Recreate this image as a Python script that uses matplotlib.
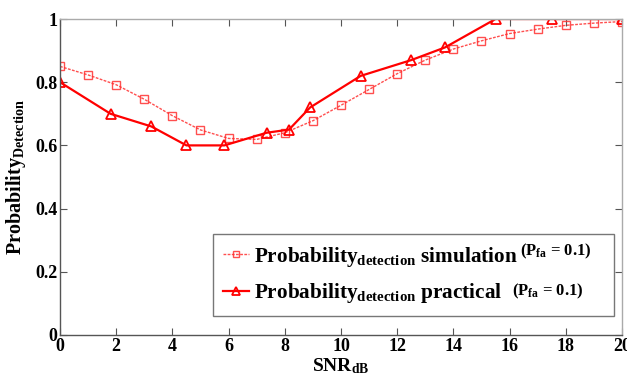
import matplotlib
matplotlib.use("Agg")
import matplotlib.pyplot as plt

plt.rcParams['font.family'] = 'Liberation Serif'
plt.rcParams['font.weight'] = 'bold'
plt.rcParams['axes.labelweight'] = 'bold'
plt.rcParams['mathtext.fontset'] = 'custom'
plt.rcParams['mathtext.rm'] = 'Liberation Serif:bold'
plt.rcParams['mathtext.it'] = 'Liberation Serif:bold'
plt.rcParams['mathtext.bf'] = 'Liberation Serif:bold'

# simulation curve (squares)
snr_sim = [0, 1, 2, 3, 4, 5, 6, 7, 8, 9, 10, 11, 12, 13, 14, 15, 16, 17, 18, 19, 20]
pd_sim = [0.85, 0.823, 0.792, 0.746, 0.694, 0.649, 0.622, 0.619, 0.640, 0.678,
          0.727, 0.777, 0.827, 0.870, 0.905, 0.931, 0.954, 0.968, 0.980, 0.987, 0.992]

# practical measurements (triangles)
snr_prac = [0, 1.8, 3.25, 4.5, 5.85, 7.35, 8.15, 8.9, 10.7, 12.5, 13.7, 15.5, 17.5, 20]
pd_prac = [0.80, 0.70, 0.66, 0.60, 0.60, 0.64, 0.65, 0.72, 0.82, 0.87, 0.91, 1.0, 1.0, 1.0]

x_ticks = [0, 2, 4, 6, 8, 10, 12, 14, 16, 18, 20]
y_ticks = [0, 0.2, 0.4, 0.6, 0.8, 1]
y_ticklabels = ['0', '0.2', '0.4', '0.6', '0.8', '1']

fig, ax = plt.subplots(figsize=(6.27, 3.78), dpi=100)
fig.subplots_adjust(left=0.0957, right=0.992, top=0.9497, bottom=0.1138)

ax.plot(snr_sim, pd_sim, color='#ff3030', linestyle='--', dashes=(2, 1), linewidth=1.0,
        marker='s', markersize=5.5, markerfacecolor='none', markeredgecolor='#ff3030',
        markeredgewidth=1.0, alpha=0.85,
        label=r'Probability$_{\mathrm{detection}}$ simulation')
ax.plot(snr_prac, pd_prac, color='#ff0000', linestyle='-', linewidth=1.6,
        marker='^', markersize=7, markerfacecolor='none', markeredgecolor='#ff0000',
        markeredgewidth=1.3,
        label=r'Probability$_{\mathrm{detection}}$ practical')

ax.set_xlim(0, 20)
ax.set_ylim(0, 1)
ax.set_xticks(x_ticks)
ax.set_yticks(y_ticks)
ax.set_yticklabels(y_ticklabels)
ax.tick_params(direction='in', top=True, right=True, labelsize=13, length=5,
               color='#555555', pad=2)

for side in ['left', 'bottom']:
    ax.spines[side].set_color('#555555')
    ax.spines[side].set_linewidth(1.0)
for side in ['top', 'right']:
    ax.spines[side].set_color('#aaaaaa')
    ax.spines[side].set_linewidth(1.0)

ax.set_xlabel(r'SNR$_{\mathrm{dB}}$', fontsize=14, labelpad=1)
ax.set_ylabel(r'Probability$_{\mathrm{Detection}}$', fontsize=14.5, labelpad=5)

leg = ax.legend(loc='lower left', bbox_to_anchor=(0.272, 0.06, 0.714, 0.256), mode='expand',
                borderaxespad=0, fontsize=15.3, handlelength=1.2, handletextpad=0.25,
                borderpad=0.5, labelspacing=0.6, markerscale=0.75,
                fancybox=False, frameon=True, framealpha=1)
leg.get_frame().set_edgecolor('#777777')
leg.get_frame().set_linewidth(1.0)

ax.text(0.819, 0.263, r'(P$_{\mathrm{fa}}$ = 0.1)', transform=ax.transAxes, fontsize=12,
        ha='left', va='center', zorder=10)
ax.text(0.804, 0.139, r'(P$_{\mathrm{fa}}$ = 0.1)', transform=ax.transAxes, fontsize=12,
        ha='left', va='center', zorder=10)

fig.savefig('out.png', dpi=100)
